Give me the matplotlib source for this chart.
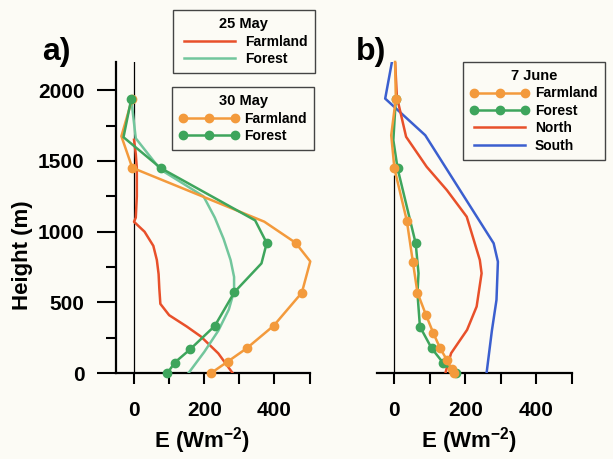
import matplotlib.pyplot as plt
from matplotlib.lines import Line2D

plt.rcParams['font.family'] = ['Liberation Sans', 'DejaVu Sans']
plt.rcParams['font.weight'] = 'bold'
plt.rcParams['mathtext.fontset'] = 'custom'
plt.rcParams['mathtext.rm'] = 'Liberation Sans:bold'
plt.rcParams['mathtext.bf'] = 'Liberation Sans:bold'

# colours
red = '#e8502a'
mint = '#72c69c'
orange = '#f39a3c'
green = '#3ea55c'
blue = '#3b5fcf'
bg = '#fcfbf5'

# panel a) 25 May (no markers)
may25_farm_E = [281, 240, 190, 150, 100, 75, 72, 70, 65, 55, 30, 0, 5, 8, 8, 5, 0]
may25_farm_h = [0, 140, 260, 330, 410, 490, 600, 700, 800, 900, 1000, 1070, 1100, 1250, 1450, 1550, 1650]
may25_forest_E = [155, 200, 240, 270, 285, 285, 275, 255, 230, 198, 140, 75, 5, -8]
may25_forest_h = [0, 150, 300, 450, 580, 680, 800, 950, 1100, 1250, 1340, 1440, 1660, 1940]

# panel a) 30 May (markers at sounding levels)
may30_farm_E = [219, 267, 321, 398, 478, 502, 460, 371, -5, -36, -5]
may30_farm_h = [0, 82, 176, 336, 569, 790, 922, 1071, 1452, 1675, 1941]
may30_farm_mk = [0, 1, 2, 3, 4, 6, 8, 10]
may30_forest_E = [95, 116, 160, 230, 286, 363, 378, 345, 76, -30, -8]
may30_forest_h = [0, 75, 169, 334, 573, 776, 920, 1080, 1450, 1668, 1937]
may30_forest_mk = [0, 1, 2, 3, 4, 6, 8, 10]

# panel b) 7 June
jun7_farm_E = [168, 162, 148, 129, 110, 89, 65, 52, 35, 0, -9, 4, 2]
jun7_farm_h = [0, 28, 94, 176, 282, 412, 569, 788, 1078, 1447, 1682, 1941, 2200]
jun7_farm_mk = [0, 1, 2, 3, 4, 5, 6, 7, 8, 9, 11]
jun7_forest_E = [174, 138, 105, 72, 65, 68, 60, 9, -3, 4]
jun7_forest_h = [0, 71, 176, 329, 565, 706, 918, 1447, 1647, 1941]
jun7_forest_mk = [0, 1, 2, 3, 6, 7, 9]
north_E = [144, 148, 160, 205, 232, 246, 241, 204, 148, 91, 33, 7, 2]
north_h = [0, 40, 141, 306, 471, 706, 800, 1106, 1294, 1459, 1671, 1953, 2200]
south_E = [260, 275, 288, 292, 280, 87, -26, -7]
south_h = [0, 300, 518, 788, 918, 1682, 1941, 2200]

fig = plt.figure(figsize=(6.13, 4.59), dpi=100, facecolor=bg)
ax_a = fig.add_axes([0.190, 0.187, 0.315, 0.678])
ax_b = fig.add_axes([0.6145, 0.187, 0.318, 0.678])

lw = 1.8
ms = 6

for ax in (ax_a, ax_b):
    ax.set_facecolor(bg)
    ax.set_xlim(-50, 500)
    ax.set_ylim(0, 2200)
    for s in ('top', 'right'):
        ax.spines[s].set_visible(False)
    ax.spines['bottom'].set_linewidth(1.6)
    ax.spines['left'].set_linewidth(1.6)
    ax.set_xticks([0, 100, 200, 300, 400, 500])
    ax.set_xticklabels(['0', '', '200', '', '400', ''])
    ax.tick_params(axis='x', direction='out', length=8, width=1.5, pad=12, labelsize=15)

ax_a.set_yticks([0, 500, 1000, 1500, 2000])
ax_a.set_yticks([250, 750, 1250, 1750], minor=True)
ax_a.tick_params(axis='y', which='major', direction='out', length=14, width=1.5, pad=9, labelsize=15)
ax_a.tick_params(axis='y', which='minor', direction='out', length=7, width=1.5)
ax_a.axvline(0, color='black', lw=0.9, zorder=1)

ax_b.spines['left'].set_visible(False)
ax_b.set_yticks([])
ax_b.vlines(0, 0, 1400, color='black', lw=0.9, zorder=1)

# panel a lines
ax_a.plot(may25_farm_E, may25_farm_h, color=red, lw=lw, zorder=3)
ax_a.plot(may25_forest_E, may25_forest_h, color=mint, lw=lw, zorder=3)
ax_a.plot(may30_farm_E, may30_farm_h, color=orange, lw=lw, marker='o', ms=ms,
          markevery=may30_farm_mk, clip_on=False, zorder=4)
ax_a.plot(may30_forest_E, may30_forest_h, color=green, lw=lw, marker='o', ms=ms,
          markevery=may30_forest_mk, clip_on=False, zorder=4)

# panel b lines
ax_b.plot(south_E, south_h, color=blue, lw=lw, zorder=3)
ax_b.plot(north_E, north_h, color=red, lw=lw, zorder=3)
ax_b.plot(jun7_forest_E, jun7_forest_h, color=green, lw=lw, marker='o', ms=ms,
          markevery=jun7_forest_mk, clip_on=False, zorder=4)
ax_b.plot(jun7_farm_E, jun7_farm_h, color=orange, lw=lw, marker='o', ms=ms,
          markevery=jun7_farm_mk, clip_on=False, zorder=5)

# legends
leg_kw = dict(loc='upper left', fontsize=10, fancybox=False, edgecolor='#444444',
              framealpha=1, facecolor=bg, handlelength=4.3, numpoints=3,
              borderpad=0.5, labelspacing=0.25, handletextpad=0.4, borderaxespad=0,
              title_fontproperties={'weight': 'bold', 'size': 10.5})

h1 = [Line2D([], [], color=red, lw=lw), Line2D([], [], color=mint, lw=lw)]
l1 = fig.legend(h1, ['Farmland', 'Forest'], title='25 May',
                bbox_to_anchor=(0.282, 0.978), **leg_kw)
h2 = [Line2D([], [], color=orange, lw=lw, marker='o', ms=ms),
      Line2D([], [], color=green, lw=lw, marker='o', ms=ms)]
l2 = fig.legend(h2, ['Farmland', 'Forest'], title='30 May',
                bbox_to_anchor=(0.281, 0.810), **leg_kw)
h3 = [Line2D([], [], color=orange, lw=lw, marker='o', ms=ms),
      Line2D([], [], color=green, lw=lw, marker='o', ms=ms),
      Line2D([], [], color=red, lw=lw),
      Line2D([], [], color=blue, lw=lw)]
l3 = fig.legend(h3, ['Farmland', 'Forest', 'North', 'South'], title='7 June',
                bbox_to_anchor=(0.755, 0.865), **leg_kw)
for lg in (l1, l2, l3):
    lg.get_frame().set_linewidth(1.0)
    for t in lg.get_texts():
        t.set_fontweight('bold')

# panel labels and axis titles
fig.text(0.068, 0.870, 'a)', fontsize=23, fontweight='bold')
fig.text(0.580, 0.870, 'b)', fontsize=23, fontweight='bold')
fig.text(0.036, 0.444, 'Height (m)', fontsize=16, fontweight='bold',
         rotation=90, ha='center', va='center')
xlab = r'E (Wm$^{\mathbf{-2}}$)'
fig.text(0.330, 0.025, xlab, fontsize=16, fontweight='bold', ha='center')
fig.text(0.765, 0.025, xlab, fontsize=16, fontweight='bold', ha='center')

fig.savefig('out.png', dpi=100, facecolor=bg)
